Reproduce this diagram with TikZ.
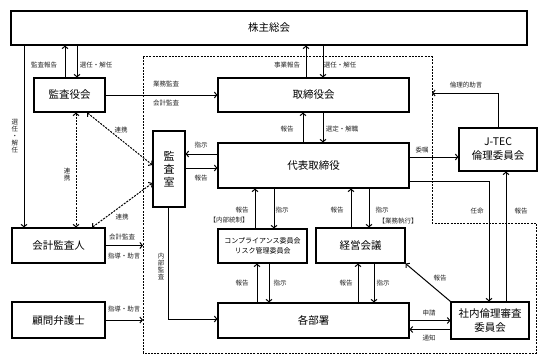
\documentclass[tikz,border=0pt]{standalone}
\usepackage{fontspec}
\setmainfont{Noto Sans CJK JP}
\usetikzlibrary{arrows.meta,calc}
\begin{document}
\begin{tikzpicture}[x=1pt,y=-1pt,
  box/.style={draw, line width=1.1pt, inner sep=0pt, align=center, font=\fontsize{10.5}{14}\selectfont},
  arr/.style={line width=1pt, -{Straight Barb[length=2.5pt,width=6pt]}},
  darr/.style={line width=1pt, {Straight Barb[length=2.5pt,width=6pt]}-{Straight Barb[length=2.5pt,width=6pt]}, dash pattern=on 2pt off 1.2pt},
  region/.style={line width=1pt, dash pattern=on 2pt off 1.2pt},
  lbl/.style={font=\fontsize{6.5}{7}\selectfont, text=black!85, inner sep=0pt, align=center},
]
\useasboundingbox[fill=white] (0,0) rectangle (549,361);

% dashed region
\draw[region] (143,57) -- (432,57) -- (432,223) -- (536,223) -- (536,353) -- (143,353) -- cycle;
\coordinate (regL) at (143,57);
\coordinate (advice) at (432,93);

% boxes
\node[box, minimum width=516pt, minimum height=34pt] (kabu) at (269,28) {株主総会};
\node[box, minimum width=71pt, minimum height=34pt] (kansayaku) at (69.5,95) {監査役会};
\node[box, minimum width=191pt, minimum height=34pt] (torishimari) at (313.5,95) {取締役会};
\node[box, minimum width=32pt, minimum height=76pt, font=\fontsize{11}{13}\selectfont] (kansashitsu) at (169,169) {監\\査\\室};
\node[box, minimum width=191pt, minimum height=45pt] (daihyo) at (313.5,165.5) {代表取締役};
\node[box, minimum width=78pt, minimum height=43pt] (jtec) at (498,149.5) {J-TEC\\倫理委員会};
\node[box, minimum width=93pt, minimum height=35pt] (kaikei) at (58.5,245.5) {会計監査人};
\node[box, minimum width=93pt, minimum height=36pt] (komon) at (58.5,320) {顧問弁護士};
\node[box, minimum width=89pt, minimum height=34pt, font=\fontsize{7}{10}\selectfont] (comp) at (262.5,246) {コンプライアンス委員会\\リスク管理委員会};
\node[box, minimum width=89pt, minimum height=35pt] (keiei) at (360.5,245.5) {経営会議};
\node[box, minimum width=191pt, minimum height=35pt] (kakubu) at (313.5,320.5) {各部署};
\node[box, minimum width=78pt, minimum height=37pt] (shanai) at (490,320.5) {社内倫理審査\\委員会};

% connectors: shareholders meeting
\draw[arr] ([xshift=-4.5pt]kansayaku.north) -- ([xshift=-204pt]kabu.south);
\draw[arr] ([xshift=-192pt]kabu.south) -- ([xshift=7.5pt]kansayaku.north);
\draw[arr] ([xshift=-7.5pt]torishimari.north) -- ([xshift=37pt]kabu.south);
\draw[arr] ([xshift=54pt]kabu.south) -- ([xshift=9.5pt]torishimari.north);
\draw[arr] ([xshift=-245pt]kabu.south) -- ([xshift=-34.5pt]kaikei.north);

% audit board
\draw[arr] (kansayaku.east) -- (torishimari.west);
\draw[darr] ([xshift=6.5pt]kansayaku.south) -- ([xshift=17.5pt]kaikei.north);
\draw[darr] ([xshift=17.5pt]kansayaku.south) -- ([yshift=4pt]kansashitsu.west);
\draw[darr] ([xshift=33.5pt]kaikei.north) -- ([yshift=-14pt]kansashitsu.west);

% board <-> president
\draw[arr] ([xshift=-10.5pt]daihyo.north) -- ([xshift=-10.5pt]torishimari.south);
\draw[arr] ([xshift=9.5pt]torishimari.south) -- ([xshift=9.5pt]daihyo.north);

% audit office
\draw[arr] ([yshift=11.5pt]daihyo.west) -- ([yshift=15pt]kansashitsu.east);
\draw[arr] ([yshift=1pt]kansashitsu.east) -- ([yshift=-2.5pt]daihyo.west);
\draw[arr] ([xshift=-1pt]kansashitsu.south) |- ([yshift=1.5pt]kakubu.west);

% external advisers
\draw[arr] (kaikei.east) -- (kaikei.east -| regL);
\draw[arr] (komon.east) -- (komon.east -| regL);

% president <-> committees
\draw[arr] ([xshift=-7.5pt]comp.north) -- ([xshift=-58.5pt]daihyo.south);
\draw[arr] ([xshift=-39.5pt]daihyo.south) -- ([xshift=11.5pt]comp.north);
\draw[arr] ([xshift=-9.5pt]keiei.north) -- ([xshift=37.5pt]daihyo.south);
\draw[arr] ([xshift=55.5pt]daihyo.south) -- ([xshift=8.5pt]keiei.north);

% committees <-> departments
\draw[arr] ([xshift=-56.5pt]kakubu.north) -- ([xshift=-5.5pt]comp.south);
\draw[arr] ([xshift=6.5pt]comp.south) -- ([xshift=-44.5pt]kakubu.north);
\draw[arr] ([xshift=44.5pt]kakubu.north) -- ([xshift=-2.5pt]keiei.south);
\draw[arr] ([xshift=13.5pt]keiei.south) -- ([xshift=60.5pt]kakubu.north);

% ethics review committee
\draw[arr] (kakubu.east) -- (shanai.west);
\draw[arr] ([yshift=-9pt]shanai.west) -- ([yshift=-9pt]kakubu.east);
\draw[arr] (shanai.north west) -- (keiei.south east);
\draw[arr] ([yshift=8.5pt]daihyo.east) -- ([yshift=-7.5pt]jtec.west);
\draw[arr] ([yshift=-15.5pt]daihyo.east) -| ([xshift=-1pt]shanai.north);
\draw[arr] ([xshift=16pt]shanai.north) -- ([xshift=8pt]jtec.south);
\draw[arr] (jtec.north) |- (advice);

% labels
\node[lbl] at (44,65) {監査報告};
\node[lbl] at (96,65) {選任・解任};
\node[lbl] at (287,65) {事業報告};
\node[lbl] at (340,65) {選任・解任};
\node[lbl] at (15,136.5) {選\\任\\・\\解\\任};
\node[lbl] at (166,84) {業務監査};
\node[lbl] at (166,103) {会計監査};
\node[lbl] at (466,85) {倫理的助言};
\node[lbl] at (287,129) {報告};
\node[lbl] at (342,129) {選定・解職};
\node[lbl] at (121,130) {連携};
\node[lbl] at (67,175) {連\\携};
\node[lbl] at (122,217) {連携};
\node[lbl] at (201,145) {指示};
\node[lbl] at (201,178) {報告};
\node[lbl] at (122,237) {会計監査};
\node[lbl] at (124,256) {指導・助言};
\node[lbl] at (124,309) {指導・助言};
\node[lbl] at (161,266.5) {内\\部\\監\\査};
\node[lbl] at (242,210) {報告};
\node[lbl] at (282,210) {指示};
\node[lbl] at (229,220) {【内部統制】};
\node[lbl] at (337,210) {報告};
\node[lbl] at (382,210) {指示};
\node[lbl] at (398,221) {【業務執行】};
\node[lbl] at (422,150) {委嘱};
\node[lbl] at (477,211) {任命};
\node[lbl] at (521,211) {報告};
\node[lbl] at (242,283) {報告};
\node[lbl] at (280,283) {指示};
\node[lbl] at (346,283) {報告};
\node[lbl] at (383,283) {指示};
\node[lbl] at (440,278) {報告};
\node[lbl] at (429,313) {申請};
\node[lbl] at (429,338) {通知};
\end{tikzpicture}
\end{document}
